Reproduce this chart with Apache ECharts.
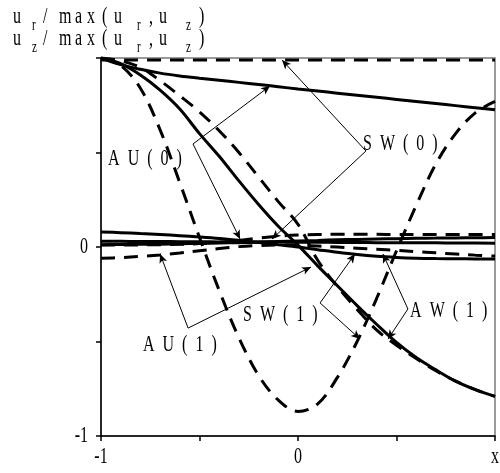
<!DOCTYPE html>
<html>
<head>
<meta charset="utf-8">
<script src="https://cdn.jsdelivr.net/npm/echarts@6/dist/echarts.min.js"></script>
<style>
  html, body { margin: 0; padding: 0; background: #fff; }
  #main { width: 500px; height: 473px; }
</style>
</head>
<body>
<div id="main"></div>
<script>
// Normalised displacement profiles across the plate thickness x in [-1, 1]
const xs = [-1, -0.9, -0.8, -0.7, -0.6, -0.5, -0.4, -0.3, -0.2, -0.1, 0,
            0.1, 0.2, 0.3, 0.4, 0.5, 0.6, 0.7, 0.8, 0.9, 1];

// solid: slowly decaying profile from the upper-left corner
const solidTop = [1.0, 0.965, 0.94, 0.92, 0.905, 0.893, 0.882, 0.871, 0.86, 0.848, 0.836,
                  0.825, 0.814, 0.803, 0.792, 0.781, 0.77, 0.759, 0.748, 0.737, 0.726];
// dashed: flat profile along the top
const dashedFlat = [0.99, 0.99, 0.99, 0.99, 0.99, 0.99, 0.99, 0.99, 0.99, 0.99, 0.99,
                    0.99, 0.99, 0.99, 0.99, 0.99, 0.99, 0.99, 0.99, 0.99, 0.99];
// solid: profile falling through zero at the mid-plane
const solidFall = [1.0, 0.97, 0.91, 0.83, 0.73, 0.6, 0.48, 0.35, 0.225, 0.11, 0.01,
                   -0.1, -0.205, -0.31, -0.41, -0.505, -0.585, -0.65, -0.71, -0.755, -0.79];
// dashed: companion of the falling profile
const dashedFall = [1.0, 0.985, 0.95, 0.88, 0.8, 0.715, 0.615, 0.5, 0.37, 0.24, 0.12,
                    -0.07, -0.21, -0.33, -0.44, -0.52, -0.59, -0.655, -0.71, -0.755, -0.79];
// dashed: full cosine-like swing
const dashedSwing = [1.0, 0.96, 0.84, 0.62, 0.34, 0.05, -0.23, -0.48, -0.68, -0.81, -0.87,
                     -0.83, -0.69, -0.5, -0.27, -0.02, 0.22, 0.44, 0.6, 0.71, 0.77];
// small-amplitude profiles close to zero
const solidLowA = [0.08, 0.076, 0.071, 0.066, 0.06, 0.053, 0.045, 0.035, 0.024, 0.012, 0.0,
                   -0.014, -0.028, -0.04, -0.049, -0.055, -0.059, -0.061, -0.062, -0.063, -0.064];
const solidLowB = [0.03, 0.03, 0.029, 0.029, 0.028, 0.028, 0.027, 0.027, 0.026, 0.026, 0.025,
                   0.025, 0.024, 0.024, 0.023, 0.023, 0.022, 0.022, 0.021, 0.021, 0.02];
const solidLowC = [0.012, 0.013, 0.014, 0.015, 0.017, 0.019, 0.021, 0.023, 0.026, 0.029, 0.032,
                   0.035, 0.038, 0.04, 0.042, 0.044, 0.046, 0.047, 0.048, 0.049, 0.05];
const dashedLowA = [0.01, 0.01, 0.011, 0.012, 0.014, 0.018, 0.025, 0.035, 0.047, 0.057, 0.063,
                    0.066, 0.067, 0.067, 0.067, 0.066, 0.066, 0.066, 0.066, 0.066, 0.066];
const dashedLowB = [-0.06, -0.056, -0.05, -0.042, -0.032, -0.02, -0.008, 0.002, 0.008, 0.01, 0.009,
                    0.005, 0.0, -0.006, -0.012, -0.018, -0.025, -0.031, -0.037, -0.043, -0.048];

// axis tick labels
const xTickValues = [-1, 0, 1];
const xTickLabels = ['-1', '0', 'x'];
const yTickValues = [-1, 0];
const yTickLabels = ['-1', '0'];

// mode annotations: label text, label anchor, and the arrows (from -> to) in data units
const annoNames = ['S  W  (  0  )', 'A  U  (  0  )', 'S  W  (  1  )', 'A  U  (  1  )', 'A  W  (  1  )'];
const annoLabelAt = [[0.33, 0.545], [-0.964, 0.466], [-0.279, -0.36], [-0.787, -0.519], [0.569, -0.339]];
const annoArrows = [
  [[0.345, 0.508], [-0.081, 0.989]],
  [[0.345, 0.508], [-0.132, 0.042]],
  [[-0.533, 0.545], [-0.142, 0.852]],
  [[-0.533, 0.545], [-0.294, 0.042]],
  [[0.112, -0.296], [0.289, -0.037]],
  [[0.112, -0.296], [0.315, -0.487]],
  [[-0.558, -0.429], [-0.7, -0.037]],
  [[-0.558, -0.429], [0.066, -0.106]],
  [[0.558, -0.328], [0.431, -0.037]],
  [[0.558, -0.328], [0.457, -0.487]]
];

const FONT = '"Liberation Serif", "Times New Roman", serif';
const STRETCH = 1.5;

function pairs(ys) { return xs.map((x, i) => [x, ys[i]]); }

function curve(ys, dashed) {
  return {
    type: 'line',
    data: pairs(ys),
    smooth: 0.35,
    showSymbol: false,
    silent: true,
    lineStyle: { color: '#000', width: 3, type: dashed ? [14, 9] : 'solid' }
  };
}

const series = [
  curve(solidTop, false),
  curve(dashedFlat, true),
  curve(solidFall, false),
  curve(dashedFall, true),
  curve(dashedSwing, true),
  curve(solidLowA, false),
  curve(solidLowB, false),
  curve(solidLowC, false),
  curve(dashedLowA, true),
  curve(dashedLowB, true)
];

// arrows are carried by a markLine on an empty helper series
series.push({
  type: 'line',
  data: [],
  silent: true,
  markLine: {
    silent: true,
    symbol: ['none', 'arrow'],
    symbolSize: [6, 9],
    label: { show: false },
    lineStyle: { color: '#000', width: 1, type: 'solid' },
    emphasis: { disabled: true },
    data: annoArrows.map(a => [{ coord: a[0] }, { coord: a[1] }])
  }
});

const chart = echarts.init(document.getElementById('main'));
chart.setOption({
  animation: false,
  backgroundColor: '#fff',
  grid: {
    left: 101, right: 5, top: 58, bottom: 37,
    show: true, borderColor: '#7a7a7a', borderWidth: 1.5
  },
  xAxis: {
    type: 'value', min: -1, max: 1, interval: 0.5,
    axisLine: { onZero: false, lineStyle: { color: '#000', width: 1.5 } },
    axisTick: { show: true, length: 5, lineStyle: { color: '#000', width: 1.5 } },
    axisLabel: { show: false },
    splitLine: { show: false }
  },
  yAxis: {
    type: 'value', min: -1, max: 1, interval: 0.5,
    axisLine: { onZero: false, lineStyle: { color: '#000', width: 1.5 } },
    axisTick: { show: true, length: 5, lineStyle: { color: '#000', width: 1.5 } },
    axisLabel: { show: false },
    splitLine: { show: false }
  },
  series: series
});

function stretchedText(x, y, text, size, align) {
  return {
    type: 'text', x: x, y: y, scaleY: STRETCH, silent: true, z: 0,
    style: {
      text: text, x: 0, y: 0, fill: '#000',
      font: size + 'px ' + FONT,
      align: align || 'left', verticalAlign: 'middle'
    }
  };
}

const graphics = [];

// tick labels placed through the axis scales
xTickValues.forEach((v, i) => {
  const p = chart.convertToPixel({ gridIndex: 0 }, [v, -1]);
  graphics.push(stretchedText(p[0], p[1] + 21, xTickLabels[i], 16, 'center'));
});
yTickValues.forEach((v, i) => {
  const p = chart.convertToPixel({ gridIndex: 0 }, [-1, v]);
  graphics.push(stretchedText(p[0] - 13, p[1], yTickLabels[i], 16, 'right'));
});

// mode labels
annoNames.forEach((name, i) => {
  const p = chart.convertToPixel({ gridIndex: 0 }, annoLabelAt[i]);
  graphics.push(stretchedText(p[0], p[1], name, 16, 'left'));
});

// axis title: two lines, one glyph at a time, subscripts flagged with 1
const titleRows = [
  [['u', 13, 0], ['r', 32, 1], ['/', 43, 0], ['m', 59, 0], ['a', 75, 0], ['x', 87, 0], ['(', 102, 0],
   ['u', 114, 0], ['r', 137, 1], [',', 149, 0], ['u', 159, 0], ['z', 186, 1], [')', 199, 0]],
  [['u', 13, 0], ['z', 32, 1], ['/', 43, 0], ['m', 59, 0], ['a', 75, 0], ['x', 87, 0], ['(', 102, 0],
   ['u', 114, 0], ['r', 137, 1], [',', 149, 0], ['u', 159, 0], ['z', 186, 1], [')', 199, 0]]
];
const titleRowY = [17, 39];
titleRows.forEach((row, r) => {
  row.forEach(part => {
    const sub = part[2] === 1;
    graphics.push(stretchedText(part[1], titleRowY[r] + (sub ? 9 : 0), part[0], sub ? 11 : 16, 'left'));
  });
});

chart.setOption({ graphic: graphics });
</script>
</body>
</html>
